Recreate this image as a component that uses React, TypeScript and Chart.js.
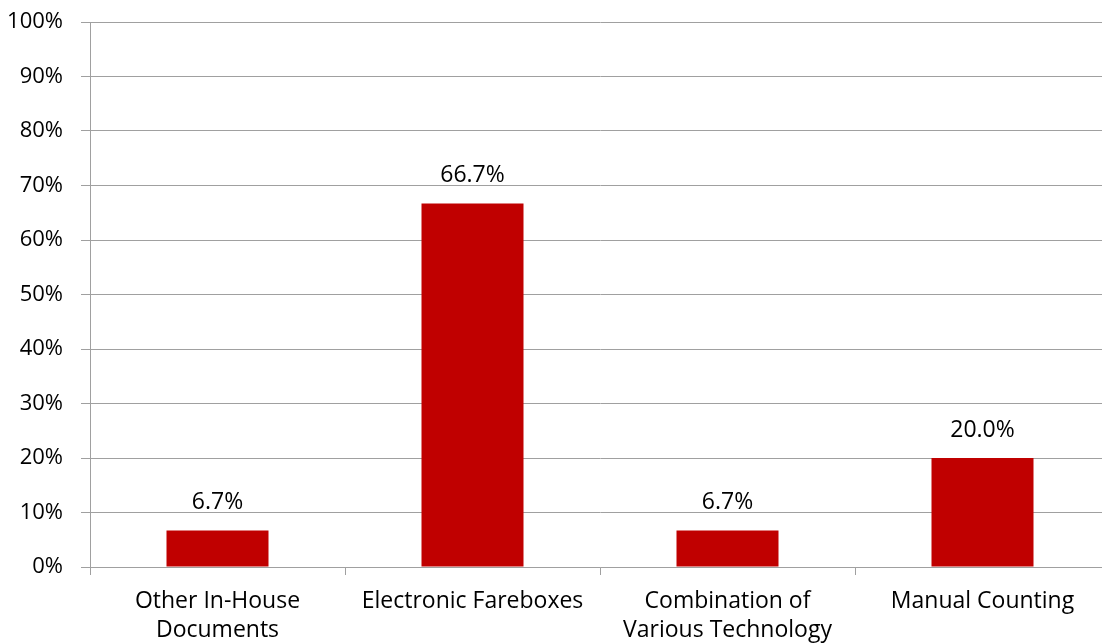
import React, { useEffect, useRef } from "react";
import { Chart, registerables } from "chart.js";

Chart.register(...registerables);

// Share of agencies by ridership data collection method
const categories: string[][] = [
  ["Other In-House", "Documents"],
  ["Electronic Fareboxes"],
  ["Combination of", "Various Technology"],
  ["Manual Counting"],
];
const shares: number[] = [6.7, 66.7, 6.7, 20.0];
const valueLabels: string[] = ["6.7%", "66.7%", "6.7%", "20.0%"];

const FONT = "'Open Sans', Lato, sans-serif";
const GRID = "#a0a0a0";

// Draws the percentage above each bar
const barValueLabels = {
  id: "barValueLabels",
  afterDatasetsDraw(chart: Chart) {
    const { ctx } = chart;
    const meta = chart.getDatasetMeta(0);
    ctx.save();
    ctx.font = `23px ${FONT}`;
    ctx.fillStyle = "#000";
    ctx.textAlign = "center";
    ctx.textBaseline = "alphabetic";
    meta.data.forEach((bar: any, i: number) => {
      ctx.fillText(valueLabels[i], bar.x, bar.y - 21);
    });
    ctx.restore();
  },
};

export default function App() {
  const canvasRef = useRef<HTMLCanvasElement | null>(null);

  useEffect(() => {
    document.documentElement.style.overflow = "hidden";
    document.body.style.overflow = "hidden";
    const canvas = canvasRef.current;
    if (!canvas) return;
    const chart = new Chart(canvas, {
      type: "bar",
      data: {
        labels: categories,
        datasets: [
          {
            data: shares,
            backgroundColor: "#c00000",
            borderWidth: 0,
            categoryPercentage: 1,
            barPercentage: 0.4,
          },
        ],
      },
      plugins: [barValueLabels],
      options: {
        responsive: false,
        animation: false,
        devicePixelRatio: 1,
        layout: { padding: { top: 22, right: 0, left: 0, bottom: 0 } },
        plugins: {
          legend: { display: false },
          tooltip: { enabled: false },
        },
        scales: {
          x: {
            afterFit(scale: any) {
              scale.height = 76;
              scale.paddingLeft = 0;
              scale.paddingRight = 0;
            },
            grid: {
              drawOnChartArea: false,
              drawTicks: true,
              tickLength: 8,
              color: GRID,
              offset: true,
            },
            border: { color: GRID, width: 1 },
            ticks: {
              color: "#000",
              padding: 12,
              font: { family: FONT, size: 23, lineHeight: 1.26 },
              maxRotation: 0,
              autoSkip: false,
            },
          },
          y: {
            min: 0,
            max: 100,
            afterFit(scale: any) {
              scale.width = 90;
              scale.paddingTop = 0;
              scale.paddingBottom = 0;
            },
            grid: {
              color: GRID,
              drawTicks: true,
              tickLength: 9,
            },
            border: { color: GRID, width: 1 },
            ticks: {
              stepSize: 10,
              color: "#000",
              padding: 18,
              font: { family: FONT, size: 22 },
              callback: (v: any) => `${v}%`,
            },
          },
        },
      },
    });
    return () => chart.destroy();
  }, []);

  return (
    <div style={{ position: "fixed", left: 0, top: 0, width: 1110, height: 643, background: "#fff" }}>
      <canvas ref={canvasRef} width={1110} height={643} style={{ display: "block" }} />
    </div>
  );
}
